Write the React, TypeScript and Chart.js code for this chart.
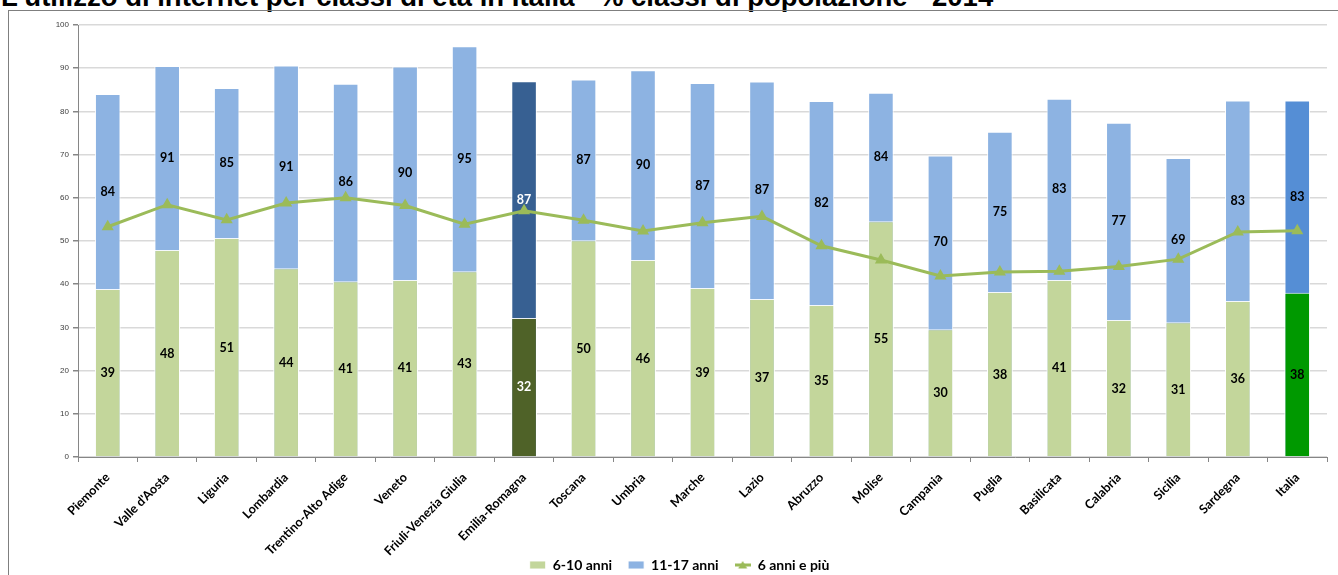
import React, { useEffect, useRef } from 'react';
import { Chart, registerables } from 'chart.js';

Chart.register(...registerables);

const TITLE = "L'utilizzo di internet per classi di età in Italia - % classi di popolazione - 2014";

const categories = [
  'Piemonte', "Valle d'Aosta", 'Liguria', 'Lombardia', 'Trentino-Alto Adige', 'Veneto',
  'Friuli-Venezia Giulia', 'Emilia-Romagna', 'Toscana', 'Umbria', 'Marche', 'Lazio',
  'Abruzzo', 'Molise', 'Campania', 'Puglia', 'Basilicata', 'Calabria', 'Sicilia',
  'Sardegna', 'Italia',
];

const age6to10 = [38.9, 47.9, 50.7, 43.7, 40.7, 41.0, 43.0, 32.2, 50.2, 45.6, 39.1, 36.6, 35.2, 54.6, 29.6, 38.2, 41.0, 31.7, 31.2, 36.1, 38.0];
const age11to17 = [84.0, 90.5, 85.4, 90.6, 86.4, 90.4, 95.1, 87.0, 87.4, 89.5, 86.6, 86.9, 82.4, 84.3, 69.8, 75.3, 82.9, 77.4, 69.2, 82.5, 82.5];
const age6plus = [53.3, 58.4, 54.9, 58.8, 60.0, 58.2, 53.9, 57.0, 54.8, 52.3, 54.2, 55.7, 48.9, 45.6, 41.9, 42.8, 43.0, 44.1, 45.8, 52.1, 52.4];

const yMin = 0;
const yMax = 100;
const yStep = 10;

const seriesNames = ['6-10 anni', '11-17 anni', '6 anni e più'];

const GREEN = '#C3D69B';
const BLUE = '#8DB3E2';
const LINE_GREEN = '#9BBB59';
const highlight: Record<string, { green: string; blue: string; text: string }> = {
  'Emilia-Romagna': { green: '#4F6228', blue: '#376092', text: '#FFFFFF' },
  Italia: { green: '#009900', blue: '#558ED5', text: '#000000' },
};

const FONT = 'Lato, "Open Sans", "Liberation Sans", sans-serif';
const LEGEND_PADDING = 16;
const LEGEND_FONT = 14;

const labelPlugin = {
  id: 'barValueLabels',
  afterDatasetsDraw(chart: any) {
    const ctx = chart.ctx;
    const g = chart.getDatasetMeta(0);
    const b = chart.getDatasetMeta(1);
    const base = chart.scales.y.getPixelForValue(0);
    ctx.save();
    ctx.font = `bold 12.5px ${FONT}`;
    ctx.textAlign = 'center';
    ctx.textBaseline = 'middle';
    g.data.forEach((bar: any, i: number) => {
      const h = highlight[categories[i]];
      ctx.fillStyle = h ? h.text : '#000000';
      ctx.fillText(String(Math.round(age6to10[i])), bar.x, (bar.y + base) / 2);
      const bb = b.data[i];
      ctx.fillText(String(Math.round(age11to17[i])), bb.x, (bb.y + bar.y) / 2);
    });
    ctx.restore();
  },
};

// moves the legend row so that it sits at the bottom like in the reference
const legendShiftPlugin = {
  id: 'legendShift',
  afterLayout(chart: any) {
    const l = chart.legend;
    if (!l) return;
    const center = l.top + LEGEND_PADDING + LEGEND_FONT / 2;
    const dy = 565 - center;
    l.top += dy;
    l.bottom = chart.height;
    l.height = l.bottom - l.top;
    l.left += 16;
    l.right += 16;
  },
};

function makeLineLegendIcon() {
  const c = document.createElement('canvas');
  c.width = 16;
  c.height = 10;
  const ctx = c.getContext('2d');
  if (ctx) {
    ctx.strokeStyle = LINE_GREEN;
    ctx.lineWidth = 3;
    ctx.beginPath();
    ctx.moveTo(0, 5);
    ctx.lineTo(16, 5);
    ctx.stroke();
    ctx.fillStyle = LINE_GREEN;
    ctx.beginPath();
    ctx.moveTo(8, 1);
    ctx.lineTo(12.5, 8.5);
    ctx.lineTo(3.5, 8.5);
    ctx.closePath();
    ctx.fill();
  }
  return c;
}

export default function App() {
  const ref = useRef<HTMLCanvasElement | null>(null);

  useEffect(() => {
    if (!ref.current) return;
    const greenColors = categories.map((c) => (highlight[c] ? highlight[c].green : GREEN));
    const blueColors = categories.map((c) => (highlight[c] ? highlight[c].blue : BLUE));
    const lineIcon = makeLineLegendIcon();
    const chart = new Chart(ref.current, {
      type: 'bar',
      data: {
        labels: categories,
        datasets: [
          {
            type: 'bar',
            label: seriesNames[0],
            data: age6to10,
            backgroundColor: greenColors,
            borderColor: 'rgba(255,255,255,0.9)',
            borderWidth: 1,
            grouped: false,
            barPercentage: 0.43,
            categoryPercentage: 1,
            order: 1,
            pointStyle: 'rect',
          } as any,
          {
            type: 'bar',
            label: seriesNames[1],
            data: age11to17,
            backgroundColor: blueColors,
            borderColor: 'rgba(255,255,255,0.9)',
            borderWidth: 1,
            grouped: false,
            barPercentage: 0.43,
            categoryPercentage: 1,
            order: 2,
            pointStyle: 'rect',
          } as any,
          {
            type: 'line',
            label: seriesNames[2],
            data: age6plus,
            borderColor: LINE_GREEN,
            backgroundColor: LINE_GREEN,
            borderWidth: 3,
            pointStyle: 'triangle',
            pointRadius: 4,
            pointBackgroundColor: LINE_GREEN,
            pointBorderColor: LINE_GREEN,
            tension: 0,
            order: 0,
          } as any,
        ],
      },
      options: {
        responsive: false,
        animation: false,
        layout: { padding: { left: 0, top: 25, right: 11, bottom: 0 } },
        plugins: {
          title: { display: false },
          tooltip: { enabled: false },
          legend: {
            position: 'bottom',
            maxHeight: 18,
            labels: {
              usePointStyle: true,
              pointStyleWidth: 16,
              boxHeight: 8,
              padding: LEGEND_PADDING,
              color: '#000000',
              font: { family: FONT, size: LEGEND_FONT, weight: 'bold' },
              sort: (a: any, b: any) => a.datasetIndex - b.datasetIndex,
              generateLabels: (ch: any) => {
                const items = (Chart.defaults.plugins.legend.labels as any).generateLabels(ch);
                items.forEach((it: any) => {
                  if (it.datasetIndex === 2) it.pointStyle = lineIcon;
                });
                return items;
              },
            },
          } as any,
        },
        scales: {
          x: {
            grid: {
              offset: true,
              drawOnChartArea: false,
              drawTicks: true,
              tickLength: 5,
              color: '#868686',
            },
            border: { color: '#868686' },
            ticks: {
              minRotation: 45,
              maxRotation: 45,
              autoSkip: false,
              color: '#000000',
              font: { family: FONT, size: 12.5, weight: 'bold' },
              padding: 8,
            },
            afterFit: (scale: any) => {
              scale.height = 100;
            },
          },
          y: {
            min: yMin,
            max: yMax,
            ticks: {
              stepSize: yStep,
              color: '#404040',
              font: { family: '"Liberation Sans", Arial, sans-serif', size: 8 },
              padding: 4,
            },
            grid: {
              color: '#D9D9D9',
              lineWidth: 1.5,
              tickLength: 5,
              tickColor: '#868686',
            },
            border: { color: '#868686' },
            afterFit: (scale: any) => {
              scale.width = 78;
            },
          },
        },
      },
      plugins: [labelPlugin, legendShiftPlugin],
    });
    return () => chart.destroy();
  }, []);

  return (
    <div style={{ position: 'absolute', left: 0, top: 0, width: 1338, height: 575, overflow: 'hidden', background: '#ffffff' }}>
      <div
        style={{
          position: 'absolute',
          left: 1,
          top: -17,
          whiteSpace: 'nowrap',
          font: 'bold 27.5px "Liberation Sans", Arial, sans-serif',
          lineHeight: '28px',
          color: '#000000',
        }}
      >
        {TITLE}
      </div>
      <div
        style={{
          position: 'absolute',
          left: 8,
          top: 10,
          width: 1340,
          height: 600,
          border: '1px solid #7F7F7F',
          boxSizing: 'border-box',
        }}
      />
      <canvas ref={ref} width={1338} height={575} style={{ position: 'absolute', left: 0, top: 0, width: 1338, height: 575 }} />
    </div>
  );
}
